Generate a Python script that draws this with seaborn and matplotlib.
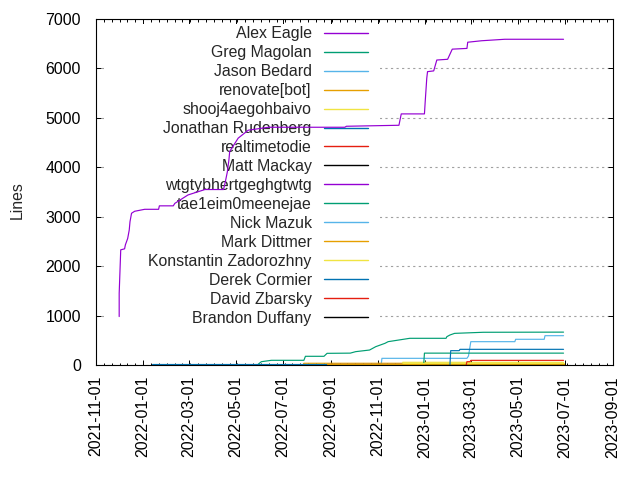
import pandas as pd
import matplotlib
matplotlib.use("Agg")
import matplotlib.pyplot as plt
import matplotlib.dates as mdates
from matplotlib.ticker import AutoMinorLocator, MultipleLocator
from matplotlib.lines import Line2D
from matplotlib.patches import Rectangle
import seaborn as sns

# ---------------- data ----------------
authors = ["Alex Eagle", "Greg Magolan", "Jason Bedard", "renovate[bot]",
           "shooj4aegohbaivo", "Jonathan Rudenberg", "realtimetodie",
           "Matt Mackay", "wtgtybhertgeghgtwtg", "tae1eim0meenejae",
           "Nick Mazuk", "Mark Dittmer", "Konstantin Zadorozhny",
           "Derek Cormier", "David Zbarsky", "Brandon Duffany"]
colors = ["#9400d3", "#009e73", "#56b4e9", "#e69f00", "#f0e442", "#0072b2",
          "#e51e10", "#000000", "#9400d3", "#009e73", "#56b4e9", "#e69f00",
          "#f0e442", "#0072b2", "#e51e10", "#000000"]

alex_dates = ["2021-12-01", "2021-12-01", "2021-12-03", "2021-12-08", "2021-12-09",
              "2021-12-12", "2021-12-14", "2021-12-15", "2021-12-17", "2021-12-21",
              "2022-01-03", "2022-01-21", "2022-01-22", "2022-02-09", "2022-02-11",
              "2022-02-28", "2022-03-22", "2022-04-15", "2022-04-17", "2022-04-20",
              "2022-04-22", "2022-04-23", "2022-05-04", "2022-05-17", "2022-06-12",
              "2022-09-19", "2022-09-21", "2022-11-28", "2022-12-01", "2022-12-31",
              "2023-01-01", "2023-01-03", "2023-01-04", "2023-01-12", "2023-01-16",
              "2023-01-30", "2023-02-05", "2023-02-24", "2023-02-25", "2023-03-15",
              "2023-04-14", "2023-06-29"]
alex_lines = [980, 1450, 2330, 2350, 2430,
              2560, 2730, 2900, 3070, 3110,
              3150, 3150, 3220, 3220, 3270,
              3440, 3550, 3550, 3680, 3910,
              4150, 4320, 4590, 4750, 4810,
              4810, 4830, 4850, 5080, 5080,
              5330, 5800, 5935, 5950, 6170,
              6185, 6390, 6405, 6530, 6560,
              6590, 6590]

greg_dates = ["2022-05-29", "2022-05-31", "2022-06-03", "2022-06-16", "2022-07-28",
              "2022-07-30", "2022-08-23", "2022-08-27", "2022-09-26", "2022-10-03",
              "2022-10-21", "2022-10-29", "2022-11-10", "2022-11-14", "2022-12-12",
              "2023-01-28", "2023-01-29", "2023-02-02", "2023-02-08", "2023-03-17",
              "2023-06-29"]
greg_lines = [0, 30, 67, 95, 95,
              176, 176, 236, 240, 270,
              303, 371, 439, 472, 540,
              540, 573, 607, 640, 662,
              665]

jason_dates = ["2022-11-05", "2022-11-06", "2023-02-24", "2023-02-26", "2023-03-01",
               "2023-04-27", "2023-04-28", "2023-06-04", "2023-06-05", "2023-06-29"]
jason_lines = [0, 135, 135, 182, 472, 472, 520, 520, 593, 593]

renovate_dates = ["2022-07-27", "2022-07-28", "2023-06-29"]
renovate_lines = [0, 35, 35]

shooj_dates = ["2022-12-02", "2022-12-03", "2023-06-29"]
shooj_lines = [0, 55, 55]

jonathan_dates = ["2022-01-13", "2023-06-29"]
jonathan_lines = [14, 14]

realtime_dates = ["2022-08-27", "2023-06-29"]
realtime_lines = [25, 25]

matt_dates = ["2022-08-27", "2023-06-29"]
matt_lines = [5, 5]

wtg_dates = ["2022-08-27", "2023-06-29"]
wtg_lines = [0, 0]

tae_dates = ["2022-12-30", "2022-12-31", "2023-06-29"]
tae_lines = [0, 240, 240]

nick_dates = ["2022-11-06", "2023-06-29"]
nick_lines = [10, 10]

mark_dates = ["2022-08-27", "2023-06-29"]
mark_lines = [15, 15]

konst_dates = ["2022-12-03", "2023-06-29"]
konst_lines = [45, 45]

derek_dates = ["2023-02-02", "2023-02-03", "2023-02-14", "2023-02-15", "2023-06-29"]
derek_lines = [0, 290, 290, 317, 317]

david_dates = ["2023-02-23", "2023-02-24", "2023-02-28", "2023-03-01", "2023-06-29"]
david_lines = [0, 67, 67, 94, 94]

brandon_dates = ["2023-01-01", "2023-06-29"]
brandon_lines = [0, 0]

series = {
    "Alex Eagle": (alex_dates, alex_lines),
    "Greg Magolan": (greg_dates, greg_lines),
    "Jason Bedard": (jason_dates, jason_lines),
    "renovate[bot]": (renovate_dates, renovate_lines),
    "shooj4aegohbaivo": (shooj_dates, shooj_lines),
    "Jonathan Rudenberg": (jonathan_dates, jonathan_lines),
    "realtimetodie": (realtime_dates, realtime_lines),
    "Matt Mackay": (matt_dates, matt_lines),
    "wtgtybhertgeghgtwtg": (wtg_dates, wtg_lines),
    "tae1eim0meenejae": (tae_dates, tae_lines),
    "Nick Mazuk": (nick_dates, nick_lines),
    "Mark Dittmer": (mark_dates, mark_lines),
    "Konstantin Zadorozhny": (konst_dates, konst_lines),
    "Derek Cormier": (derek_dates, derek_lines),
    "David Zbarsky": (david_dates, david_lines),
    "Brandon Duffany": (brandon_dates, brandon_lines),
}

rows = []
for name in authors:
    ds, vs = series[name]
    for i, (d, v) in enumerate(zip(ds, vs)):
        rows.append({"author": name, "date": d, "lines": v, "order": i})
df = pd.DataFrame(rows)
df["date"] = pd.to_datetime(df["date"])

# ---------------- style ----------------
sns.set_style("ticks")
plt.rcParams["font.family"] = ["Liberation Sans", "DejaVu Sans"]
FS = 11.4
plt.rcParams["font.size"] = FS

fig = plt.figure(figsize=(6.4, 4.8), dpi=100)
ax = fig.add_axes([96 / 640, 1 - 365 / 480, 517 / 640, 346 / 480])

palette = dict(zip(authors, colors))
sns.lineplot(data=df, x="date", y="lines", hue="author", hue_order=authors,
             palette=palette, estimator=None, sort=False, legend=False,
             linewidth=0.85, ax=ax, zorder=2)

ax.set_xlim(pd.Timestamp("2021-11-01"), pd.Timestamp("2023-09-01"))
ax.set_ylim(0, 7000)
ax.xaxis.set_major_locator(mdates.MonthLocator(bymonth=[1, 3, 5, 7, 9, 11]))
ax.xaxis.set_major_formatter(mdates.DateFormatter("%Y-%m-%d"))
ax.xaxis.set_minor_locator(AutoMinorLocator(6))
ax.yaxis.set_major_locator(MultipleLocator(1000))
ax.set_xlabel("")
ax.set_ylabel("")

ax.tick_params(axis="both", which="both", direction="in", top=True, right=True,
               color="black", width=0.7, labelsize=FS, labelcolor="black")
ax.tick_params(which="major", length=3.3)
ax.tick_params(which="minor", length=1.8)
ax.tick_params(axis="x", which="major", labelrotation=90, pad=8)
ax.tick_params(axis="y", pad=10.8)

for sp in ax.spines.values():
    sp.set_visible(True)
    sp.set_color("black")
    sp.set_linewidth(0.8)

ax.set_axisbelow(True)
ax.yaxis.grid(True, linestyle=(0, (2, 3)), color="#a0a0a0", linewidth=0.8)
ax.xaxis.grid(False)

# opaque key area
ax.add_patch(Rectangle((0.0155, 0.107), 0.5335, 0.878, transform=ax.transAxes,
                       facecolor="white", edgecolor="none", zorder=1))

handles = [Line2D([], [], color=c, lw=1.0) for c in colors]
leg = ax.legend(handles, authors, loc="upper right", bbox_to_anchor=(0.526, 0.979),
                frameon=False, markerfirst=False, handlelength=2.75,
                handletextpad=0.8, labelspacing=0.25, borderpad=0,
                borderaxespad=0, fontsize=FS)
leg.set_zorder(1.5)

fig.text(17 / 640, 1 - 200 / 480, "Lines", rotation=90, ha="center", va="center",
         fontsize=FS)

fig.savefig("out.png", dpi=100)
